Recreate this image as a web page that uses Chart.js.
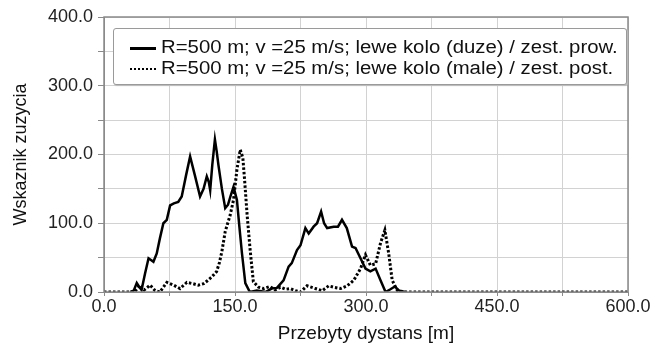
<!DOCTYPE html>
<html>
<head>
<meta charset="utf-8">
<script src="https://cdn.jsdelivr.net/npm/chart.js@4"></script>
<style>
  html, body { margin: 0; padding: 0; background: #fff; }
  #wrap { position: relative; width: 658px; height: 345px; }
  #legend {
    position: absolute; left: 113px; top: 28px; width: 512px; height: 55px;
    background: #fff; border: 1px solid #9a9a9a; border-radius: 3px; box-shadow: 1px 1px 1px #bbb;
    font-family: "Liberation Sans", Arial, sans-serif; font-size: 18px; color: #111;
  }
  .row { position: absolute; left: 16px; height: 20px; line-height: 20px; white-space: nowrap; }
  .sample { display: inline-block; width: 26px; vertical-align: middle; margin-right: 5px; }
  .txt { display: inline-block; transform: scaleX(1.13); transform-origin: left center; }
</style>
</head>
<body>
<div id="wrap">
  <canvas id="myChart" width="658" height="345"></canvas>
  <div id="legend"></div>
</div>
<script>
// series 1 - solid
const distDuze = [30, 34, 37.5, 40, 43, 47, 51, 56.6, 60.4, 64, 68, 71.9, 75.7, 80, 85, 89, 94, 98.6, 104, 110,
  114, 117.7, 120, 121.6, 124, 127, 129, 131, 135, 138.8, 142, 145, 148.3, 152.2, 155, 158, 161.8, 167, 175, 185,
  192, 198, 205.6, 211.4, 215, 221, 225, 230.6, 234.4, 240, 244, 248.6, 252, 255.5, 263, 267.9, 272.5, 278, 284, 288,
  293.7, 299.4, 305, 311, 316.6, 322.4, 328, 333, 338, 345];
const wskDuze = [0, 2, 13, 8, 3, 27, 49, 44, 56, 78, 100, 105, 126, 129, 131, 139, 170, 197, 170, 139,
  150, 168, 160, 148, 185, 222, 205, 185, 150, 122, 127, 140, 153, 134, 95, 56, 13, 0, 2, 0,
  5, 6, 17, 37, 42, 61, 68, 93, 85, 95, 100, 117, 100, 93, 95, 95, 105, 93, 66, 64,
  49, 34, 30, 34, 17, 0, 4, 8, 2, 0];

// series 2 - dotted
const distMale = [0, 35, 41, 46, 52.8, 58.5, 64, 72, 79.6, 87, 94.9, 102, 108, 114, 118, 123.5, 129, 132, 135, 138.8,
  144.5, 148.3, 152.2, 156, 159, 161, 164, 167.5, 171, 177, 183, 190, 196, 202, 208, 213.5, 219, 225, 232.5, 242,
  250, 257.3, 263, 271, 278.5, 286, 293.7, 299.4, 305, 311, 316.6, 321.6, 326, 330, 336, 345, 600];
const wskMale = [0, 0, 10, 3, 10, 2, 0, 14, 10, 5, 14, 12, 10, 12, 16, 22, 30, 42, 59, 88,
  112, 134, 178, 207, 195, 163, 110, 59, 15, 7, 5, 8, 3, 7, 4, 5, 2, 0, 9, 5,
  2, 9, 7, 5, 9, 17, 34, 54, 39, 41, 71, 90, 56, 17, 2, 0, 0];

const labels = [
  "R=500 m; v =25 m/s; lewe kolo (duze) / zest. prow.",
  "R=500 m; v =25 m/s; lewe kolo (male) / zest. post."
];
const xTicks = [0, 150, 300, 450, 600];
const yTicks = [0, 100, 200, 300, 400];

function pts(xs, ys) {
  return xs.map((x, i) => ({ x: x, y: ys[i] }));
}

const ramka = {
  id: 'ramka',
  afterDraw(chart) {
    const a = chart.chartArea, c = chart.ctx;
    c.save();
    c.strokeStyle = '#8a8a8a';
    c.lineWidth = 1.5;
    c.strokeRect(a.left, a.top, a.right - a.left, a.bottom - a.top);
    c.restore();
  }
};

const ctx = document.getElementById('myChart');
const font = { family: '"Liberation Sans", Arial, sans-serif', size: 18 };

const chart = new Chart(ctx, {
  type: 'line',
  data: {
    datasets: [{
      label: labels[0],
      data: pts(distDuze, wskDuze),
      borderColor: '#000',
      borderWidth: 2.5,
      pointRadius: 0,
      tension: 0
    }, {
      label: labels[1],
      data: pts(distMale, wskMale),
      borderColor: '#000',
      borderWidth: 3,
      borderDash: [2.5, 2],
      borderCapStyle: 'butt',
      pointRadius: 0,
      tension: 0
    }]
  },
  options: {
    responsive: false,
    animation: false,
    layout: { padding: { left: 10, right: 30, top: 17, bottom: 0 } },
    plugins: { legend: { display: false }, tooltip: { enabled: false } },
    scales: {
      x: {
        type: 'linear',
        min: 0, max: 600,
        afterFit: s => { s.height = 53; },
        grid: { color: '#d2d2d2', tickLength: 4, tickColor: '#8a8a8a' },
        border: { color: '#8a8a8a' },
        ticks: {
          stepSize: 75,
          padding: 0,
          color: '#222',
          font: font,
          maxRotation: 0,
          callback: v => xTicks.includes(v) ? v.toFixed(1) : ''
        },
        title: { display: true, text: 'Przebyty dystans [m]', color: '#111', font: { family: font.family, size: 19 }, padding: { top: 0, bottom: 0 } }
      },
      y: {
        min: 0, max: 400,
        afterFit: s => { s.width = 94; },
        grid: { color: '#d2d2d2', tickLength: 6, tickColor: '#8a8a8a' },
        border: { color: '#8a8a8a' },
        ticks: {
          stepSize: 50,
          padding: 5,
          color: '#222',
          font: font,
          callback: v => yTicks.includes(v) ? v.toFixed(1) : ''
        },
        title: { display: true, text: 'Wskaznik zuzycia', color: '#111', font: { family: font.family, size: 18 }, padding: { top: 0, bottom: 0 } }
      }
    }
  },
  plugins: [ramka]
});

// legend as html
const leg = document.getElementById('legend');
chart.data.datasets.forEach((ds, i) => {
  const row = document.createElement('div');
  row.className = 'row';
  row.style.top = (i === 0 ? 8 : 29) + 'px';
  const s = document.createElement('span');
  s.className = 'sample';
  s.style.borderTop = ds.borderDash ? '2px dotted #000' : '3px solid #000';
  row.appendChild(s);
  const t = document.createElement('span');
  t.className = 'txt';
  t.textContent = ds.label;
  row.appendChild(t);
  leg.appendChild(row);
});
</script>
</body>
</html>
